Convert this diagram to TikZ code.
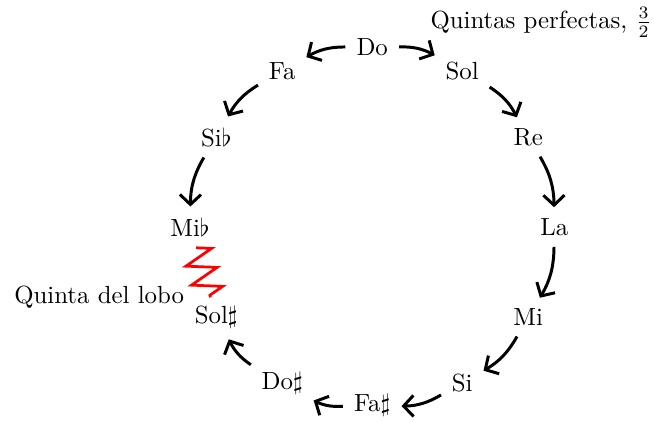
\documentclass[tikz,border=0pt]{standalone}
\usepackage{amsmath,amssymb}
\usepackage{tikz}
\usetikzlibrary{arrows.meta,positioning,calc,decorations.pathmorphing}

\begin{document}
\begin{tikzpicture}[
  note/.style={font=\normalsize},
  fifth/.style={-{Straight Barb[length=4pt,width=8.5pt]}, line width=1.2pt, shorten <=1pt, shorten >=1pt},
  wolf/.style={red, line width=1.1pt, decorate,
               decoration={zigzag, segment length=2.8mm, amplitude=2.1mm}}
]
\useasboundingbox (-5.27,-2.75) rectangle (3.99,3.215);

%% Notes round the circle
\node[note] (do)    at (90:2.55)   {Do};
\node[note] (sol)   at (60:2.55)   {Sol};
\node[note] (re)    at (30:2.55)   {Re};
\node[note] (la)    at (0:2.58)    {La};
\node[note] (mi)    at (-30:2.55)  {Mi};
\node[note] (si)    at (-60:2.55)  {Si};
\node[note] (fash)  at (-90:2.53)  {Fa$\sharp$};
\node[note] (dosh)  at (-120:2.55) {Do$\sharp$};
\node[note] (solsh) at (-150:2.55) {Sol$\sharp$};
\node[note] (mib)   at (180:2.58)  {Mi$\flat$};
\node[note] (sib)   at (150:2.55)  {Si$\flat$};
\node[note] (fa)    at (120:2.55)  {Fa};

%% Fifths, clockwise
\draw[fifth] (do)   to[bend left=15] (sol);
\draw[fifth] (sol)  to[bend left=15] (re);
\draw[fifth] (re)   to[bend left=15] (la);
\draw[fifth] (la)   to[bend left=15] (mi);
\draw[fifth] (mi)   to[bend left=15] (si);
\draw[fifth] (si)   to[bend left=15] (fash);
\draw[fifth] (fash) to[bend left=15] (dosh);
\draw[fifth] (dosh) to[bend left=15] (solsh);

%% Fifths, anticlockwise
\draw[fifth] (do)  to[bend right=15] (fa);
\draw[fifth] (fa)  to[bend right=15] (sib);
\draw[fifth] (sib) to[bend right=15] (mib);

%% Wolf fifth
\coordinate (wolfa) at ($(mib)!0.23!(solsh)$);
\coordinate (wolfb) at ($(mib)!0.78!(solsh)$);
\draw[wolf] (wolfa) -- (wolfb);
\node[note, left=2.5mm of wolfb] (wolflbl) {Quinta del lobo};

%% Title
\node[note] (title) at (2.39,2.90) {Quintas perfectas, $\frac{3}{2}$};

\end{tikzpicture}
\end{document}
